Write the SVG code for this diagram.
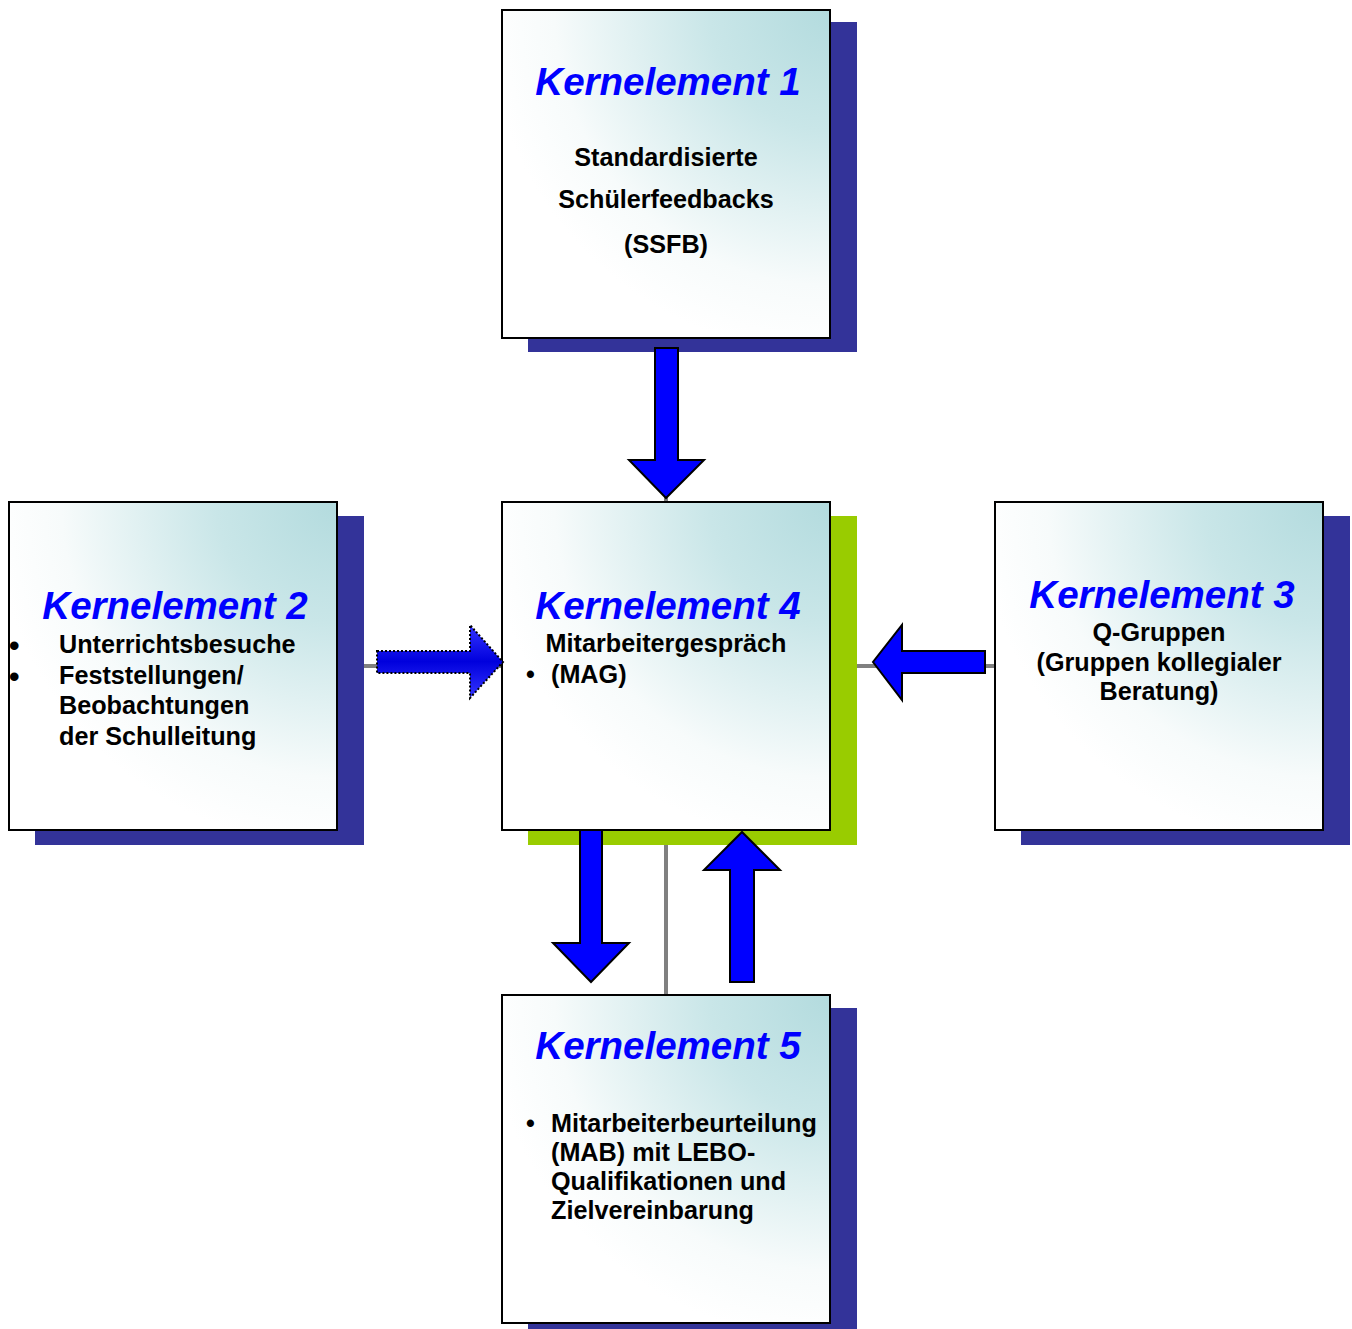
<svg xmlns="http://www.w3.org/2000/svg" width="1352" height="1329" viewBox="0 0 1352 1329">
<defs>
<radialGradient id="bg" cx="1" cy="0" r="1.05" fx="1" fy="0">
<stop offset="0" stop-color="#b3dbde"/>
<stop offset="0.35" stop-color="#c9e6e8"/>
<stop offset="0.8" stop-color="#f7fbfb"/>
<stop offset="1" stop-color="#ffffff"/>
</radialGradient>
<linearGradient id="dg" x1="0" y1="0" x2="0" y2="1">
<stop offset="0" stop-color="#3535ff"/>
<stop offset="0.5" stop-color="#0000dd"/>
<stop offset="1" stop-color="#3535ff"/>
</linearGradient>
</defs>
<style>
.box{fill:url(#bg);stroke:#000;stroke-width:2}
.sh{fill:#333399}
.gr{fill:#99cc00}
.t{font-family:"Liberation Sans",Arial,sans-serif;font-weight:bold;font-style:italic;font-size:38.5px;fill:#0000ff}
.b{font-family:"Liberation Sans",Arial,sans-serif;font-weight:bold;font-size:25.2px;fill:#000}
.d{font-family:"Liberation Sans",Arial,sans-serif;font-weight:bold;font-size:30px;fill:#000}
.c{text-anchor:middle}
.ar{fill:#0000ff;stroke:#000;stroke-width:2;stroke-linejoin:miter}
.ln{stroke:#808080;stroke-width:4;fill:none}
</style>
<rect width="1352" height="1329" fill="#fff"/>
<g id="connectors-lines">
<line class="ln" x1="666" y1="338" x2="666" y2="502"/>
<line class="ln" x1="337" y1="666" x2="502" y2="666"/>
<line class="ln" x1="830" y1="666" x2="995" y2="666"/>
<line class="ln" x1="666" y1="830" x2="666" y2="995"/>
</g>
<g id="node1">
<rect class="sh" x="528" y="22" width="329" height="330"/>
<rect class="box" x="502" y="10" width="328" height="328"/>
<text class="t c" x="668" y="95">Kernelement 1</text>
<text class="b c" x="666" y="166">Standardisierte</text>
<text class="b c" x="666" y="208">Schülerfeedbacks</text>
<text class="b c" x="666" y="253">(SSFB)</text>
</g>
<g id="node2">
<rect class="sh" x="35" y="516" width="329" height="329"/>
<rect class="box" x="9" y="502" width="328" height="328"/>
<text class="t c" x="175" y="619">Kernelement 2</text>
<text class="d" x="9" y="656">•</text>
<text class="d" x="9" y="687">•</text>
<text class="b" x="59" y="653">Unterrichtsbesuche</text>
<text class="b" x="59" y="684">Feststellungen/</text>
<text class="b" x="59" y="714">Beobachtungen</text>
<text class="b" x="59" y="745">der Schulleitung</text>
</g>
<g id="node4">
<rect class="gr" x="528" y="516" width="329" height="329"/>
<rect class="box" x="502" y="502" width="328" height="328"/>
<text class="t c" x="668" y="619">Kernelement 4</text>
<text class="b c" x="666" y="652">Mitarbeitergespräch</text>
<text class="b" x="526" y="683">•</text>
<text class="b" x="551" y="683">(MAG)</text>
</g>
<g id="node3">
<rect class="sh" x="1021" y="516" width="329" height="329"/>
<rect class="box" x="995" y="502" width="328" height="328"/>
<text class="t c" x="1162" y="608">Kernelement 3</text>
<text class="b c" x="1159" y="641">Q-Gruppen</text>
<text class="b c" x="1159" y="671">(Gruppen kollegialer</text>
<text class="b c" x="1159" y="700">Beratung)</text>
</g>
<g id="node5">
<rect class="sh" x="528" y="1008" width="329" height="321"/>
<rect class="box" x="502" y="995" width="328" height="328"/>
<text class="t c" x="668" y="1059">Kernelement 5</text>
<text class="b" x="526" y="1132">•</text>
<text class="b" x="551" y="1132">Mitarbeiterbeurteilung</text>
<text class="b" x="551" y="1161">(MAB) mit LEBO-</text>
<text class="b" x="551" y="1190">Qualifikationen und</text>
<text class="b" x="551" y="1219">Zielvereinbarung</text>
</g>
<g id="connectors">
<polygon class="ar" points="655,348 678,348 678,460 704,460 666,498 629,460 655,460"/>
<polygon points="377,651 470,651 470,625 503,662 470,698 470,673 377,673" fill="url(#dg)" stroke="#000" stroke-width="2" stroke-dasharray="2 2"/>
<polygon class="ar" points="985,651 902,651 902,625 873,662 902,700 902,673 985,673"/>
<polygon class="ar" points="580,830 602,830 602,943 629,943 591,982 553,943 580,943"/>
<polygon class="ar" points="730,982 754,982 754,870 780,870 742,832 704,870 730,870"/>
</g>
</svg>
